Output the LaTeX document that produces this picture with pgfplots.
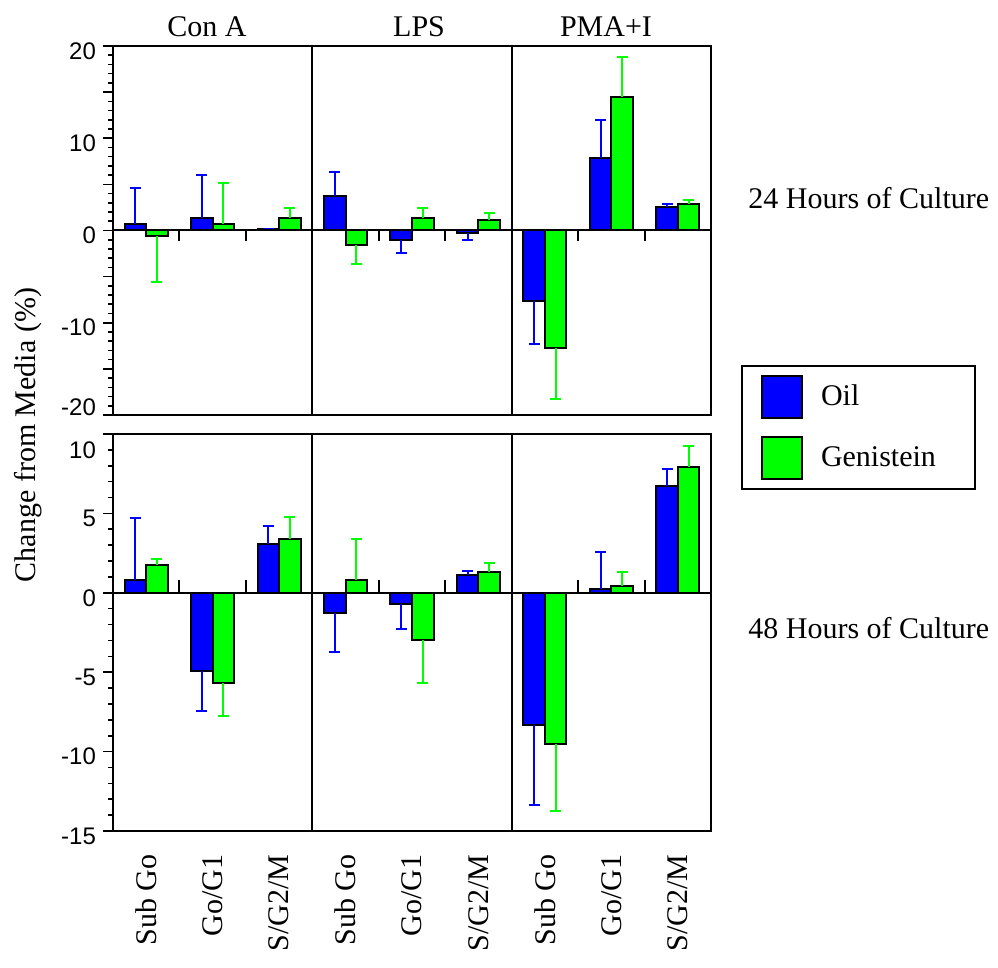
\documentclass[border=0pt]{standalone}
\usepackage{pgfplots}
\pgfplotsset{compat=1.18}
\usepackage{fontspec}
\setmainfont{Liberation Serif}
\newfontfamily\sansf{Liberation Sans}
\newcommand\lbl{\fontsize{15}{18}\selectfont}
\definecolor{oilc}{RGB}{0,0,255}
\definecolor{genc}{RGB}{0,255,0}
\pgfplotsset{
  panel/.style={scale only axis, width=299pt, xmin=-0.5, xmax=8.5, clip=false,
    axis line style={line width=1pt}, tick align=outside, ytick pos=left,
    major tick length=5pt, minor tick length=2.5pt, minor tick num=4,
    every tick/.style={black, line width=0.8pt},
    yticklabel style={font=\sansf\fontsize{12}{12}\selectfont},
    /pgf/number format/assume math mode=true},
  oilbar/.style={ybar, bar width=0.324, bar shift=-0.162, fill=oilc, draw=black, line width=1pt},
  genbar/.style={ybar, bar width=0.324, bar shift=0.162, fill=genc, draw=black, line width=1pt},
  errs/.style n args={2}{forget plot, only marks, mark=text, text mark={}, color=#2, line width=1pt,
    error bars/.cd, y dir=#1, y explicit,
    error bar style={color=#2, line width=1pt, solid},
    error mark=-, error mark options={color=#2, line width=1pt, mark size=2.75pt, rotate=90}},
  oilleg/.style={legend image code/.code={\path[draw=none, fill=none] (0pt,-12pt) rectangle (30pt,12pt);
     \draw[fill=oilc, draw=black, line width=1pt] (10pt,-10.5pt) rectangle (30pt,10.5pt);}},
  genleg/.style={legend image code/.code={\path[draw=none, fill=none] (0pt,-12pt) rectangle (30pt,12pt);
     \draw[fill=genc, draw=black, line width=1pt] (10pt,-10.5pt) rectangle (30pt,10.5pt);}},
}
\begin{document}
\begin{tikzpicture}
\useasboundingbox (0,0) rectangle (499pt,484pt);
\node[rotate=90, anchor=base, font=\lbl] at (17.5pt,266.5pt) {Change from Media (\%)};
% ---------------- 24 hours ----------------
\begin{axis}[panel, name=top, at={(56.5pt,276.5pt)}, anchor=south west, height=184.5pt,
  ymin=-20, ymax=20, ytick={-20,-15,...,20}, yticklabels={-20,,-10,,0,,10,,20}, xtick=\empty,
  yticklabel style={yshift={ifthenelse(\ticknum==0,4,-2.5)*1pt}}]
\addplot[oilbar] coordinates {(0,0.7) (1,1.4) (2,0.15) (3,3.7) (4,-1.0) (5,-0.3) (6,-7.65) (7,7.9) (8,2.5)};
\addplot[genbar] coordinates {(0,-0.6) (1,0.65) (2,1.4) (3,-1.6) (4,1.3) (5,1.1) (6,-12.75) (7,14.5) (8,2.9)};
% error bars, at the centres of the bars (category -0.162 for Oil, +0.162 for Genistein)
\addplot[errs={plus}{oilc}]
  coordinates {(-0.162,0.7) +- (0,3.9) (0.838,1.4) +- (0,4.6) (1.838,0.15) +- (0,0.05) (2.838,3.7) +- (0,2.6) (6.838,7.9) +- (0,4.1) (7.838,2.5) +- (0,0.4)};
\addplot[errs={minus}{oilc}]
  coordinates {(3.838,-1.0) +- (0,1.4) (4.838,-0.3) +- (0,0.7) (5.838,-7.65) +- (0,4.7)};
\addplot[errs={plus}{genc}]
  coordinates {(1.162,0.65) +- (0,4.5) (2.162,1.4) +- (0,1.0) (4.162,1.3) +- (0,1.1) (5.162,1.1) +- (0,0.75) (7.162,14.5) +- (0,4.3) (8.162,2.9) +- (0,0.45)};
\addplot[errs={minus}{genc}]
  coordinates {(0.162,-0.6) +- (0,4.95) (3.162,-1.6) +- (0,2.05) (6.162,-12.75) +- (0,5.55)};
\draw[line width=1pt] (axis cs:-0.5,0) -- (axis cs:8.5,0);
\draw[line width=1pt] (axis cs:2.5,-20) -- (axis cs:2.5,20);
\draw[line width=1pt] (axis cs:5.5,-20) -- (axis cs:5.5,20);
\draw[line width=1pt] (axis cs:0.5,0) -- (axis cs:0.5,-1.19);
\draw[line width=1pt] (axis cs:1.5,0) -- (axis cs:1.5,-1.19);
\draw[line width=1pt] (axis cs:3.5,0) -- (axis cs:3.5,-1.19);
\draw[line width=1pt] (axis cs:4.5,0) -- (axis cs:4.5,-1.19);
\draw[line width=1pt] (axis cs:6.5,0) -- (axis cs:6.5,-1.19);
\draw[line width=1pt] (axis cs:7.5,0) -- (axis cs:7.5,-1.19);
\node[anchor=base, font=\lbl] at (axis cs:0.915,21.05) {Con A};
\node[anchor=base, font=\lbl] at (axis cs:4.106,21.05) {LPS};
\node[anchor=base, font=\lbl] at (axis cs:6.92,21.05) {PMA+I};
\node[anchor=base west, font=\lbl, inner sep=0pt] at (axis cs:9.057,2.35) {24 Hours of Culture};
\end{axis}
% ---------------- 48 hours ----------------
\begin{axis}[panel, name=bot, at={(56.5pt,68.5pt)}, anchor=south west, height=198.5pt,
  ymin=-15, ymax=10, ytick={-15,-10,...,10}, yticklabels={-15,-10,-5,0,5,10},
  yticklabel style={yshift={ifthenelse(\ticknum==5,-8,-2.5)*1pt}},
  xtick={0,...,8}, xticklabels={Sub Go,Go/G1,S/G2/M,Sub Go,Go/G1,S/G2/M,Sub Go,Go/G1,S/G2/M},
  x tick style={draw=none}, xticklabel shift=6.5pt,
  xticklabel style={rotate=90, anchor=east, font=\lbl, inner sep=0pt},
  legend style={at={(1.0502,1.1738)}, anchor=north west, draw=black, line width=1pt,
    inner xsep=0pt, inner ysep=3.5pt, nodes={inner sep=0pt}, column sep=9pt, row sep=6.5pt,
    font=\lbl}, legend cell align=left]
\addlegendimage{oilleg}\addlegendentry{Oil}
\addlegendimage{genleg}\addlegendentry{Genistein\hspace*{19.5pt}}
\addplot[oilbar, forget plot] coordinates {(0,0.8) (1,-4.9) (2,3.05) (3,-1.25) (4,-0.7) (5,1.1) (6,-8.3) (7,0.25) (8,6.75)};
\addplot[genbar, forget plot] coordinates {(0,1.75) (1,-5.7) (2,3.4) (3,0.8) (4,-2.95) (5,1.3) (6,-9.55) (7,0.45) (8,7.9)};
\addplot[errs={plus}{oilc}]
  coordinates {(-0.162,0.8) +- (0,3.9) (1.838,3.05) +- (0,1.15) (4.838,1.1) +- (0,0.25) (6.838,0.25) +- (0,2.3) (7.838,6.75) +- (0,1.05)};
\addplot[errs={minus}{oilc}]
  coordinates {(0.838,-4.9) +- (0,2.55) (2.838,-1.25) +- (0,2.45) (3.838,-0.7) +- (0,1.55) (5.838,-8.3) +- (0,5.05)};
\addplot[errs={plus}{genc}]
  coordinates {(0.162,1.75) +- (0,0.35) (2.162,3.4) +- (0,1.4) (3.162,0.8) +- (0,2.6) (5.162,1.3) +- (0,0.6) (7.162,0.45) +- (0,0.85) (8.162,7.9) +- (0,1.35)};
\addplot[errs={minus}{genc}]
  coordinates {(1.162,-5.7) +- (0,2.05) (4.162,-2.95) +- (0,2.75) (6.162,-9.55) +- (0,4.2)};
\draw[line width=1pt] (axis cs:-0.5,0) -- (axis cs:8.5,0);
\draw[line width=1pt] (axis cs:2.5,-15) -- (axis cs:2.5,10);
\draw[line width=1pt] (axis cs:5.5,-15) -- (axis cs:5.5,10);
\draw[line width=1pt] (axis cs:0.5,0) -- (axis cs:0.5,0.82);
\draw[line width=1pt] (axis cs:1.5,0) -- (axis cs:1.5,0.82);
\draw[line width=1pt] (axis cs:3.5,0) -- (axis cs:3.5,0.82);
\draw[line width=1pt] (axis cs:4.5,0) -- (axis cs:4.5,0.82);
\draw[line width=1pt] (axis cs:6.5,0) -- (axis cs:6.5,0.82);
\draw[line width=1pt] (axis cs:7.5,0) -- (axis cs:7.5,0.82);
\node[anchor=base west, font=\lbl, inner sep=0pt] at (axis cs:9.057,-2.87) {48 Hours of Culture};
\end{axis}
\end{tikzpicture}
\end{document}
